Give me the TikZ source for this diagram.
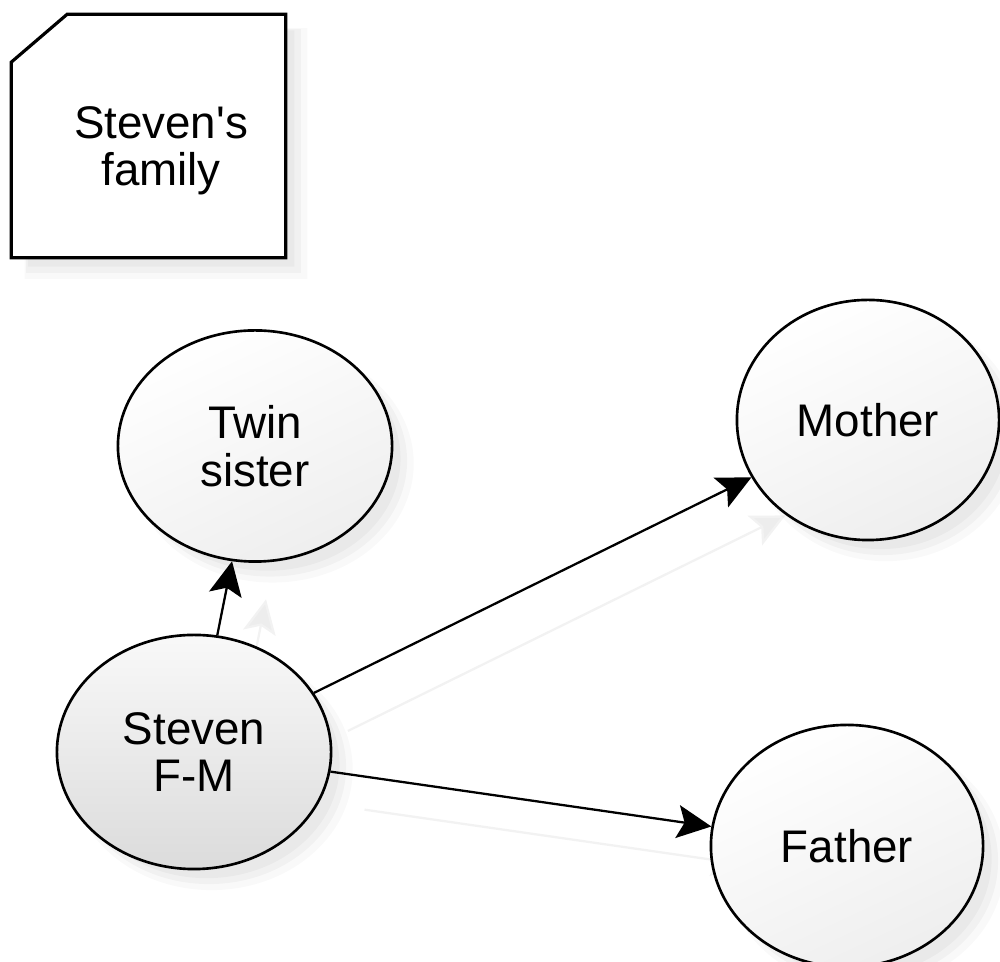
\documentclass[tikz,border=0pt]{standalone}
\usepackage{fontspec}
\setmainfont{Liberation Sans}
\usetikzlibrary{shapes.geometric,arrows.meta,shadows,backgrounds,calc}
\begin{document}
\begin{tikzpicture}[x=0.01cm,y=-0.01cm,
  font=\fontsize{13}{13.5}\selectfont,
  softshadow/.style={
    general shadow={shadow xshift=0.17cm, shadow yshift=-0.17cm, fill=black, opacity=0.025, shadow scale=1.03},
    general shadow={shadow xshift=0.15cm, shadow yshift=-0.15cm, fill=black, opacity=0.03},
    general shadow={shadow xshift=0.13cm, shadow yshift=-0.13cm, fill=black, opacity=0.03, shadow scale=0.97}},
  person/.style={ellipse, draw=black, line width=0.75pt, inner sep=0pt, align=center,
    top color=white, bottom color=gray!13, shading angle=25, softshadow},
  self/.style={person, top color=gray!5, bottom color=gray!28},
  noteframe/.style={draw=black, line width=0.9pt, fill=white, softshadow},
  rel/.style={draw=black, line width=0.65pt, -{Stealth[length=0.34cm, width=0.33cm, inset=0.07cm]}},
  relshadow/.style={draw=gray!10, line width=0.65pt, -{Stealth[length=0.34cm, width=0.33cm, inset=0.07cm, fill=gray!14]},
    transform canvas={shift={(0.34cm,-0.38cm)}}}
]
\useasboundingbox (0,0) rectangle (1000,962);

\node[minimum width=2.73cm, minimum height=2.42cm, inner sep=0pt] (note) at (148.5,136) {};
\path[noteframe] ($(note.north west)+(0,48)$) -- ($(note.north west)+(56,0)$) -- (note.north east)
  -- (note.south east) -- (note.south west) -- cycle;
\node[align=center] (notetext) at (161,151) {Steven\textquotesingle s\\family};

\node[person, minimum width=2.74cm, minimum height=2.31cm] (twin) at (255,446) {Twin\\sister};
\node[person, minimum width=2.62cm, minimum height=2.40cm] (mother) at (868,420) {Mother};
\node[self, minimum width=2.74cm, minimum height=2.34cm] (steven) at (194,752) {Steven\\F-M};
\node[person, minimum width=2.72cm, minimum height=2.42cm] (father) at (847,846) {Father};

\begin{scope}[on background layer]
  \draw[relshadow] (steven) -- (twin);
  \draw[relshadow] (steven) -- (mother);
  \draw[relshadow] (steven) -- (father);
\end{scope}

\draw[rel] (steven) -- (twin);
\draw[rel] (steven) -- (mother);
\draw[rel] (steven) -- (father);
\end{tikzpicture}
\end{document}
